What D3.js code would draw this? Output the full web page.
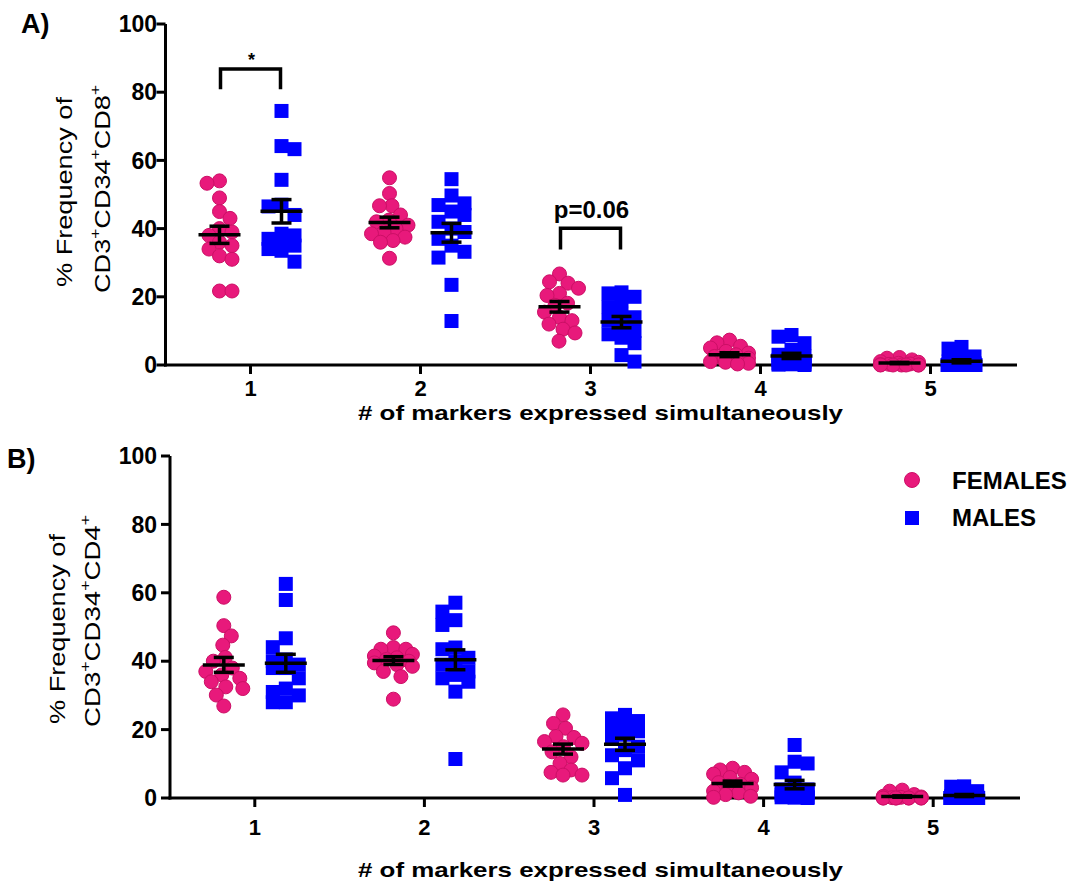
<!DOCTYPE html>
<html><head><meta charset="utf-8">
<script src="https://cdn.jsdelivr.net/npm/d3@7"></script>
<style>
body{margin:0;background:#fff}
svg{display:block;font-family:"Liberation Sans",Arial,sans-serif}
</style>
</head><body>
<svg id="chart" width="1076" height="884"></svg>
<script>
// ---------------- data ----------------
const categories = [1, 2, 3, 4, 5];
const tickLabels = ["1", "2", "3", "4", "5"];
const yTicks = [0, 20, 40, 60, 80, 100];
const seriesNames = ["FEMALES", "MALES"];
const xTitle = "# of markers expressed simultaneously";

// Panel A: CD3+CD34+CD8+
const femalesCD8 = [
  [54, 53.3, 49, 45, 43, 40, 39, 38, 36, 35, 34, 32, 31, 21.7, 21.7],
  [54.9, 50.3, 46.7, 46.7, 44, 42.5, 42, 41, 40, 39, 38.5, 37.5, 36.5, 36, 31.3],
  [26.7, 24.4, 24, 22.5, 21, 20.4, 18.1, 17.5, 15.5, 14, 13, 12, 10.5, 9.4, 7.0],
  [7.3, 6.5, 5.5, 5, 4, 3.5, 3, 2.5, 2, 2, 1.5, 1, 0.8, 0.5, 0.3],
  [2.2, 2.0, 1.5, 1, 0.8, 0.5, 0.3, 0.2, 0.1, 0, 0, 0, 0, 0, 0]
];
const malesCD8 = [
  [74.5, 64.2, 63.3, 54.3, 47, 46.5, 44, 38.5, 38, 37, 36, 35, 34, 33.5, 30.3],
  [54.5, 49.7, 47.4, 46.9, 45, 44, 42, 40, 39, 37, 35, 33.2, 31.5, 23.5, 12.9],
  [21.3, 21, 20, 19, 17, 15, 14, 13, 11, 10, 9, 8, 6.4, 2.9, 1.0],
  [8.8, 8.3, 6.4, 4.5, 3, 2.5, 2, 1.5, 1, 0.8, 0.5, 0.3, 0.2, 0.1, 0],
  [5.3, 4.8, 2.5, 1.5, 1, 0.5, 0.3, 0.2, 0.1, 0, 0, 0, 0, 0, 0]
];

// Panel B: CD3+CD34+CD4+
const femalesCD4 = [
  [58.7, 50.4, 47.4, 44.7, 41.1, 40, 38, 37, 36, 35, 34, 32.5, 32, 30.1, 26.9],
  [48.3, 44, 43.5, 43.5, 42, 41.5, 41, 40.5, 40, 39.5, 39, 38.5, 37, 35.5, 28.9],
  [24.3, 21.8, 20.4, 18, 17.7, 16.5, 16, 15, 13.5, 12, 10.1, 8.2, 7.5, 6.7, 6.7],
  [8.7, 8.2, 7.5, 7, 6, 5.5, 4.5, 4, 3.5, 3, 2, 1.5, 1, 0.5, 0.2],
  [2.3, 2.0, 1, 0.5, 0.3, 0.2, 0.1, 0, 0, 0, 0, 0, 0, 0, 0]
];
const malesCD4 = [
  [62.6, 57.9, 46.7, 44.1, 40.5, 40, 39, 38, 38, 35, 32, 31, 30, 28, 28],
  [57.1, 54.5, 52, 50.6, 44, 43.5, 41, 40, 39, 37, 36, 35, 34, 31.1, 11.4],
  [24.3, 23.3, 22.5, 21.5, 20.5, 19.5, 18.5, 17.5, 15, 14, 12.5, 11, 8.7, 5.8, 0.9],
  [15.5, 10.6, 10.1, 7.5, 4.5, 2.5, 2, 2.5, 1.5, 1, 0.5, 0.3, 0.2, 0.1, 0],
  [3.4, 3.3, 2, 1, 0.5, 0.3, 0.2, 0.1, 0, 0, 0, 0, 0, 0, 0]
];

// ---------------- drawing ----------------
const svg = d3.select("#chart");
const PINK = "#e8197b", PINK_EDGE = "#cc0f66", BLUE = "#0000ff";

const panels = [
  { label: "A)", labelXY: [21, 33], fem: femalesCD8, mal: malesCD8, sub: "CD8",
    xRange: [165.5, 1015.5], axisEnd: 1017, yRange: [365, 24],
    tickLabelY: 396, titleY: 420, ylab1: [72, 192], ylab2: [110, 189], ylen2: 208,
    brackets: [ {cat: 1, top: 86.8, leg: 80.9, text: "*", size: 18, dy: -3},
                {cat: 3, top: 40.1, leg: 33.9, text: "p=0.06", size: 24, dy: -10} ] },
  { label: "B)", labelXY: [7, 468], fem: femalesCD4, mal: malesCD4, sub: "CD4",
    xRange: [170, 1018], axisEnd: 1020, yRange: [798, 456],
    tickLabelY: 835, titleY: 877, ylab1: [65, 629], ylab2: [100, 621], ylen2: 212,
    brackets: [] }
];

function swarm(values, yS, D, maxW, cheb) {
  const order = values.map((v, i) => i).sort((a, b) => values[b] - values[a]);
  const placed = [], xs = new Array(values.length);
  order.forEach((i, k) => {
    const yy = yS(values[i]);
    let best = 0, bestCost = Infinity;
    const sg = k % 2 === 0 ? 1 : -1;
    for (let s = 0; s <= maxW; s += 0.5) {
      const cands = s === 0 ? [0] : [sg * s, -sg * s];
      for (const o of cands) {
        let cost = 0;
        for (const p of placed) {
          const d = cheb ? Math.max(Math.abs(o - p.x), Math.abs(yy - p.y)) : Math.hypot(o - p.x, yy - p.y);
          if (d < D) cost += (D - d);
        }
        if (cost < bestCost - 1e-9) { bestCost = cost; best = o; }
      }
      if (bestCost === 0) break;
    }
    xs[i] = best; placed.push({ x: best, y: yy });
  });
  return xs;
}

const GOFF = 31;

panels.forEach(P => {
  const x = d3.scaleLinear().domain([0.5, 5.5]).range(P.xRange);
  const y = d3.scaleLinear().domain([0, 100]).range(P.yRange);
  const g = svg.append("g");
  const x0 = P.xRange[0];

  // axes
  g.append("line").attr("x1", x0).attr("x2", x0).attr("y1", y(0) + 1.5).attr("y2", y(100))
    .attr("stroke", "#000").attr("stroke-width", 3);
  g.append("line").attr("x1", x0 - 1.5).attr("x2", P.axisEnd).attr("y1", y(0)).attr("y2", y(0))
    .attr("stroke", "#000").attr("stroke-width", 3);
  yTicks.forEach(t => {
    g.append("line").attr("x1", x0 - 9).attr("x2", x0).attr("y1", y(t)).attr("y2", y(t))
      .attr("stroke", "#000").attr("stroke-width", 3);
    g.append("text").attr("x", 157).attr("y", y(t)).attr("dy", "0.36em")
      .attr("text-anchor", "end").attr("font-size", 23).attr("font-weight", "bold")
      .text(t);
  });
  categories.forEach((c, i) => {
    g.append("line").attr("x1", x(c)).attr("x2", x(c)).attr("y1", y(0)).attr("y2", y(0) + 9)
      .attr("stroke", "#000").attr("stroke-width", 3);
    g.append("text").attr("x", x(c)).attr("y", P.tickLabelY).attr("text-anchor", "middle")
      .attr("font-size", 22).attr("font-weight", "bold").text(tickLabels[i]);
  });

  // x title
  g.append("text").attr("x", 358).attr("y", P.titleY).attr("font-size", 21)
    .attr("font-weight", "bold").attr("textLength", 485).attr("lengthAdjust", "spacingAndGlyphs")
    .text(xTitle);

  // y title
  g.append("text").attr("transform", `translate(${P.ylab1[0]},${P.ylab1[1]}) rotate(-90)`)
    .attr("text-anchor", "middle").attr("font-size", 22)
    .attr("textLength", 190).attr("lengthAdjust", "spacingAndGlyphs").text("% Frequency of");
  const t2 = g.append("text").attr("transform", `translate(${P.ylab2[0]},${P.ylab2[1]}) rotate(-90)`)
    .attr("text-anchor", "middle").attr("font-size", 22)
    .attr("textLength", P.ylen2).attr("lengthAdjust", "spacingAndGlyphs");
  [["CD3", 0], ["+", 1], ["CD34", 0], ["+", 1], [P.sub, 0], ["+", 1]].forEach(([s, sup], k, arr) => {
    const prevSup = k > 0 ? arr[k - 1][1] : 0;
    t2.append("tspan").attr("font-size", sup ? 14 : 22)
      .attr("dy", sup ? -10 : (prevSup ? 10 : 0)).text(s);
  });

  // panel label
  g.append("text").attr("x", P.labelXY[0]).attr("y", P.labelXY[1]).attr("font-size", 27)
    .attr("font-weight", "bold").text(P.label);

  // points
  categories.forEach((c, i) => {
    const fv = P.fem[i], mv = P.mal[i];
    const fx = swarm(fv, y, 12.5, 19, false);
    const mx = swarm(mv, y, 13, 14, true);
    const fc = x(c) - GOFF, mc = x(c) + GOFF;
    g.append("g").selectAll("circle").data(fv).join("circle")
      .attr("cx", (d, j) => fc + fx[j]).attr("cy", d => y(d)).attr("r", 7)
      .attr("fill", PINK).attr("stroke", PINK_EDGE).attr("stroke-width", 1);
    g.append("g").selectAll("rect").data(mv).join("rect")
      .attr("x", (d, j) => mc + mx[j] - 7).attr("y", d => y(d) - 7)
      .attr("width", 14).attr("height", 14).attr("fill", BLUE);
  });

  // mean +- SEM
  categories.forEach((c, i) => {
    [[P.fem[i], x(c) - GOFF], [P.mal[i], x(c) + GOFF]].forEach(([vals, cx]) => {
      const m = d3.mean(vals), sem = d3.deviation(vals) / Math.sqrt(vals.length);
      const L = (x1, y1, x2, y2) => g.append("line")
        .attr("x1", x1).attr("y1", y1).attr("x2", x2).attr("y2", y2)
        .attr("stroke", "#000").attr("stroke-width", 3.5);
      L(cx - 21, y(m), cx + 21, y(m));
      L(cx, y(m - sem), cx, y(m + sem));
      L(cx - 10, y(m - sem), cx + 10, y(m - sem));
      L(cx - 10, y(m + sem), cx + 10, y(m + sem));
    });
  });

  // significance brackets
  P.brackets.forEach(b => {
    const a = x(b.cat) - GOFF + 1, z = x(b.cat) + GOFF - 1;
    g.append("path").attr("d", `M${a},${y(b.leg)}V${y(b.top)}H${z}V${y(b.leg)}`)
      .attr("fill", "none").attr("stroke", "#000").attr("stroke-width", 3.5);
    g.append("text").attr("x", (a + z) / 2 + 1).attr("y", y(b.top) + b.dy)
      .attr("text-anchor", "middle").attr("font-size", b.size).attr("font-weight", "bold")
      .text(b.text);
  });
});

// legend
const leg = svg.append("g");
leg.append("circle").attr("cx", 912).attr("cy", 480).attr("r", 7.5)
  .attr("fill", PINK).attr("stroke", PINK_EDGE).attr("stroke-width", 1);
leg.append("rect").attr("x", 905).attr("y", 511).attr("width", 14).attr("height", 14).attr("fill", BLUE);
leg.append("text").attr("x", 952).attr("y", 488.5).attr("font-size", 24).attr("font-weight", "bold").text(seriesNames[0]);
leg.append("text").attr("x", 952).attr("y", 526).attr("font-size", 24).attr("font-weight", "bold").text(seriesNames[1]);
</script>
</body></html>
